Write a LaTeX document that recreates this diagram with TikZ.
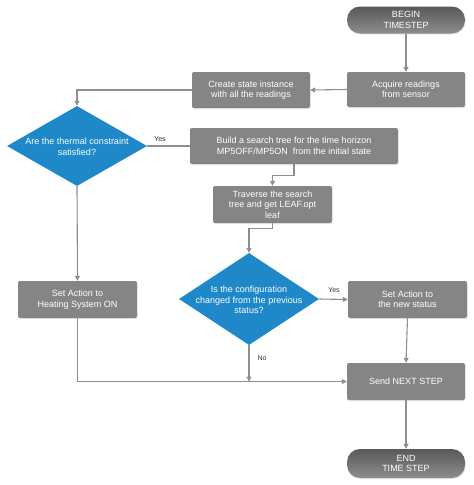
\documentclass[tikz,border=0pt]{standalone}
\usepackage{fontspec}
\setmainfont{Liberation Sans}
\usetikzlibrary{shapes.geometric,arrows.meta,shadows}
\definecolor{boxgray}{HTML}{858585}
\definecolor{linegray}{HTML}{8E8E8E}
\definecolor{dblue}{HTML}{1F88C8}
\definecolor{labgray}{HTML}{333333}
\tikzset{
  procbox/.style={draw=none, fill=boxgray, rounded corners=2pt, text=white, align=center,
    font=\fontsize{9}{10.5}\selectfont, inner sep=0pt,
    drop shadow={opacity=0.18, shadow xshift=0.6pt, shadow yshift=-1pt}},
  termbox/.style={draw=none, rounded corners=13pt, top color=black!65, bottom color=black!45,
    text=white, align=center, font=\fontsize{9}{10.5}\selectfont, inner sep=0pt,
    drop shadow={opacity=0.18, shadow xshift=0.6pt, shadow yshift=-1pt}},
  decis/.style={shape=diamond, fill=dblue, draw=none, inner sep=0pt, shape aspect=1.6},
  dtext/.style={text=white, align=center, font=\fontsize{9}{10.5}\selectfont, inner sep=0pt},
  conn/.style={draw=linegray, line width=1.1pt},
  arr/.style={conn, -{Triangle[length=5pt,width=5pt]}},
  lab/.style={text=labgray, font=\fontsize{7}{8}\selectfont, inner sep=0pt}
}
\begin{document}
\begin{tikzpicture}[x=1pt,y=-1pt]
\useasboundingbox (0,0) rectangle (474,485);
% nodes
\node[termbox, minimum width=118pt, minimum height=27pt] (begin) at (406,20) {BEGIN\\TIMESTEP};
\node[procbox, minimum width=118pt, minimum height=35pt] (acq) at (406,89.5) {Acquire readings\\from sensor};
\node[procbox, minimum width=118pt, minimum height=36pt] (create) at (251,90) {Create state instance\\with all the readings};
\node[decis, minimum width=140pt, minimum height=80pt] (d1) at (77,146) {};
\node[dtext] (d1t) at (77,147) {Are the thermal constraint\\satisfied?};
\node[procbox, minimum width=208pt, minimum height=36pt] (build) at (294,146) {Build a search tree for the time horizon\\MP5OFF/MP5ON\ \ from the initial state};
\node[procbox, minimum width=119pt, minimum height=37pt] (trav) at (272.5,204.5) {Traverse the search\\tree and get LEAF.opt\\leaf};
\node[decis, minimum width=140pt, minimum height=92pt] (d2) at (249,299) {};
\node[dtext] (d2t) at (249,300) {Is the configuration\\changed from the previous\\status?};
\node[procbox, minimum width=119pt, minimum height=37pt] (heat) at (77.5,299.5) {Set Action to\\Heating System ON};
\node[procbox, minimum width=119pt, minimum height=37pt] (newst) at (407.5,299.5) {Set Action to\\the new status};
\node[procbox, minimum width=118pt, minimum height=37pt] (send) at (406,381.5) {Send NEXT STEP};
\node[termbox, minimum width=118pt, minimum height=29pt] (endt) at (406,463.5) {END\\TIME STEP};
% connectors
\draw[arr] (begin.south) -- (acq.north);
\draw[arr] (acq.west) -- (create.east);
\draw[arr] (create.west) -| (d1.north);
\draw[conn] (d1.east) -- (build.west);
\node[lab] (yes1) at (160,139) {Yes};
\draw[arr] (build.south) -- ++(0,11) -| (trav.north);
\draw[arr] (trav.south) -- ++(0,5) -| (d2.north);
\draw[arr] (d2.east) -- (newst.west);
\node[lab] (yes2) at (334,290) {Yes};
\draw[arr] (newst.south) -- (send.north);
\draw[arr] (d2.south) -- (d2.south |- send.west);
\node[lab] (no) at (262,358) {No};
\draw[arr] (d1.south) -- (heat.north);
\draw[arr] (heat.south) |- (send.west);
\draw[arr] (send.south) -- (endt.north);
\end{tikzpicture}
\end{document}
